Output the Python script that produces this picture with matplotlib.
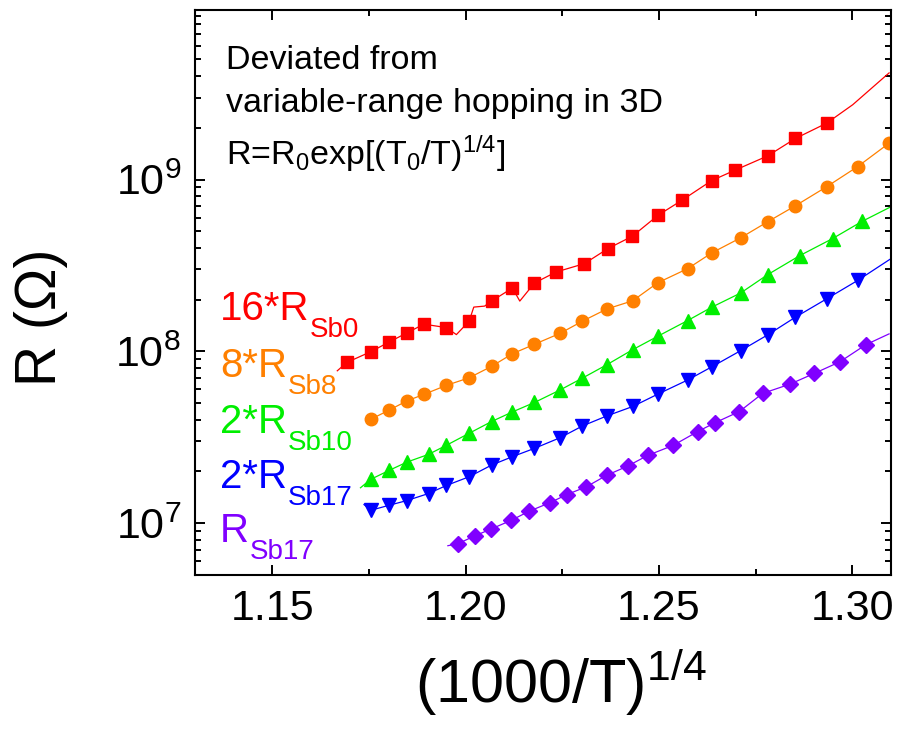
import matplotlib
matplotlib.use("Agg")
import matplotlib.pyplot as plt
from matplotlib.ticker import LogLocator, NullFormatter, MultipleLocator, LogFormatterSciNotation

plt.rcParams['font.family'] = ['Liberation Sans', 'DejaVu Sans']
plt.rcParams['mathtext.fontset'] = 'custom'
plt.rcParams['mathtext.rm'] = 'Liberation Sans'
plt.rcParams['mathtext.it'] = 'Liberation Sans:italic'
plt.rcParams['mathtext.default'] = 'regular'

# ---------------- data (x = (1000/T)^(1/4), y = R in Ohm) ----------------
# 16*R_Sb0 (red squares)
x_sb0 = [1.1693, 1.1755, 1.1801, 1.1848, 1.1892, 1.1950, 1.2009, 1.2067, 1.2121, 1.2178,
         1.2234, 1.2307, 1.2368, 1.2431, 1.2498, 1.2560, 1.2636, 1.2696, 1.2781, 1.2853, 1.2934]
y_sb0 = [8.63e7, 9.96e7, 1.130e8, 1.281e8, 1.440e8, 1.375e8, 1.499e8, 1.962e8, 2.337e8, 2.500e8,
         2.897e8, 3.240e8, 3.964e8, 4.677e8, 6.203e8, 7.592e8, 9.85e8, 1.132e9, 1.372e9, 1.734e9, 2.130e9]
xl_sb0 = [1.1668, 1.1693, 1.1755, 1.1801, 1.1848, 1.1892, 1.1950, 1.1976, 1.2009, 1.2021, 1.2049,
          1.2067, 1.2121, 1.2140, 1.2178, 1.2234, 1.2307, 1.2368, 1.2431, 1.2498, 1.2560, 1.2636,
          1.2696, 1.2781, 1.2853, 1.2934, 1.3001, 1.3095]
yl_sb0 = [7.71e7, 8.63e7, 9.96e7, 1.130e8, 1.281e8, 1.440e8, 1.375e8, 1.252e8, 1.499e8, 1.81e8, 1.834e8,
          1.962e8, 2.337e8, 1.962e8, 2.500e8, 2.897e8, 3.240e8, 3.964e8, 4.677e8, 6.203e8, 7.592e8, 9.85e8,
          1.132e9, 1.372e9, 1.734e9, 2.130e9, 2.724e9, 4.172e9]

# 8*R_Sb8 (orange circles)
x_sb8 = [1.1755, 1.1802, 1.1848, 1.1892, 1.1950, 1.2009, 1.2067, 1.2121, 1.2178, 1.2245, 1.2302,
         1.2365, 1.2432, 1.2497, 1.2574, 1.2637, 1.2711, 1.2781, 1.2853, 1.2934, 1.3014, 1.3095]
y_sb8 = [4.03e7, 4.55e7, 5.15e7, 5.62e7, 6.34e7, 7.02e7, 8.18e7, 9.69e7, 1.100e8, 1.276e8, 1.499e8,
         1.764e8, 1.970e8, 2.509e8, 3.029e8, 3.747e8, 4.577e8, 5.677e8, 7.04e8, 9.09e8, 1.190e9, 1.627e9]

# 2*R_Sb10 (green up-triangles)
x_sb10 = [1.1754, 1.1802, 1.1848, 1.1904, 1.1950, 1.2009, 1.2067, 1.2121, 1.2178, 1.2245, 1.2302,
          1.2365, 1.2432, 1.2497, 1.2574, 1.2637, 1.2711, 1.2781, 1.2864, 1.2949, 1.3026]
y_sb10 = [1.798e7, 2.029e7, 2.268e7, 2.516e7, 2.84e7, 3.337e7, 3.906e7, 4.444e7, 5.043e7, 5.975e7, 6.99e7,
          8.36e7, 1.023e8, 1.225e8, 1.511e8, 1.81e8, 2.185e8, 2.795e8, 3.607e8, 4.534e8, 5.72e8]
x_sb10_ends = [1.1728, 1.3100]
y_sb10_ends = [1.608e7, 6.945e8]

# 2*R_Sb17 (blue down-triangles)
x_sb17b = [1.1755, 1.1802, 1.1848, 1.1904, 1.1950, 1.2009, 1.2067, 1.2121, 1.2178, 1.2245, 1.2302,
           1.2365, 1.2432, 1.2497, 1.2574, 1.2637, 1.2711, 1.2781, 1.2853, 1.2934, 1.3014]
y_sb17b = [1.190e7, 1.272e7, 1.355e7, 1.489e7, 1.658e7, 1.864e7, 2.179e7, 2.44e7, 2.727e7, 3.15e7, 3.681e7,
           4.21e7, 4.778e7, 5.64e7, 6.81e7, 8.14e7, 1.009e8, 1.247e8, 1.582e8, 2.024e8, 2.588e8]
x_sb17b_ends = [1.1737, 1.3100]
y_sb17b_ends = [1.284e7, 3.465e8]

# R_Sb17 (purple diamonds)
x_sb17 = [1.1980, 1.2025, 1.2066, 1.2118, 1.2164, 1.2217, 1.2262, 1.2312, 1.2365, 1.2419, 1.2471,
          1.2537, 1.2600, 1.2646, 1.2708, 1.2768, 1.2839, 1.2902, 1.2968, 1.3035]
y_sb17 = [7.6e6, 8.47e6, 9.26e6, 1.040e7, 1.174e7, 1.314e7, 1.469e7, 1.629e7, 1.902e7, 2.150e7, 2.482e7,
          2.84e7, 3.415e7, 3.853e7, 4.468e7, 5.692e7, 6.45e7, 7.45e7, 8.70e7, 1.094e8]
x_sb17_ends = [1.1954, 1.3095]
y_sb17_ends = [7.40e6, 1.264e8]

label_main = ['16*R', '8*R', '2*R', '2*R', 'R']
label_sub = ['Sb0', 'Sb8', 'Sb10', 'Sb17', 'Sb17']
colors = ['#ff0000', '#ff8000', '#00ee00', '#0000ff', '#8000ff']
annotation = ['Deviated from', 'variable-range hopping in 3D',
              'R=R$_0$exp[(T$_0$/T)$^{1/4}$]']

# ---------------- figure ----------------
fig = plt.figure(figsize=(8.99, 7.36), dpi=100)
ax = fig.add_axes([0.2169, 0.2188, 0.7742, 0.7677])

def with_ends(xs, ys, xe, ye):
    pts = sorted(list(zip(xs, ys)) + list(zip(xe, ye)))
    return [p[0] for p in pts], [p[1] for p in pts]

lw = 0.9
ax.plot(xl_sb0, yl_sb0, '-', color=colors[0], lw=lw)
ax.plot(x_sb0, y_sb0, 's', color=colors[0], ms=9, mec=colors[0])

ax.plot(x_sb8, y_sb8, '-', color=colors[1], lw=lw)
ax.plot(x_sb8, y_sb8, 'o', color=colors[1], ms=9, mec=colors[1])

lx, ly = with_ends(x_sb10, y_sb10, x_sb10_ends, y_sb10_ends)
ax.plot(lx, ly, '-', color=colors[2], lw=lw)
ax.plot(x_sb10, y_sb10, '^', color=colors[2], ms=10.5, mec=colors[2])

lx, ly = with_ends(x_sb17b, y_sb17b, x_sb17b_ends, y_sb17b_ends)
ax.plot(lx, ly, '-', color=colors[3], lw=lw)
ax.plot(x_sb17b, y_sb17b, 'v', color=colors[3], ms=10.5, mec=colors[3])

lx, ly = with_ends(x_sb17, y_sb17, x_sb17_ends, y_sb17_ends)
ax.plot(lx, ly, '-', color=colors[4], lw=lw)
ax.plot(x_sb17, y_sb17, 'D', color=colors[4], ms=8, mec=colors[4])

ax.set_yscale('log')
ax.set_xlim(1.13, 1.31)
ax.set_ylim(5e6, 9.7e9)

ax.xaxis.set_major_locator(MultipleLocator(0.05))
ax.xaxis.set_minor_locator(MultipleLocator(0.025))
ax.xaxis.set_major_formatter(plt.FuncFormatter(lambda v, p: f'{v:.2f}'))
ax.yaxis.set_major_locator(LogLocator(base=10, subs=(1.0,), numticks=10))
ax.yaxis.set_minor_locator(LogLocator(base=10, subs=range(2, 10), numticks=10))
ax.yaxis.set_minor_formatter(NullFormatter())
ax.yaxis.set_major_formatter(LogFormatterSciNotation())

for s in ax.spines.values():
    s.set_linewidth(1.5)
ax.tick_params(which='both', direction='in', top=True, right=True, width=1.4)
ax.tick_params(which='major', length=7)
ax.tick_params(which='minor', length=4)
ax.tick_params(axis='x', which='major', labelsize=31, pad=10)
ax.tick_params(axis='y', which='major', labelsize=31, pad=10)

fig.text(0.0456, 0.5686, 'R (\u03a9)', rotation=90, fontsize=41, ha='center', va='center')
fig.text(0.624, 0.045, '(1000/T)$^{1/4}$', fontsize=44, ha='center', va='baseline')

# annotation lines
ann_y = [0.8956, 0.8195, 0.7257]
for t, yy in zip(annotation, ann_y):
    ax.text(0.0445, yy, t, transform=ax.transAxes, fontsize=24.5, va='baseline', ha='left')

# series labels (main text + lowered subscript)
lab_y = [0.4513, 0.3504, 0.2513, 0.154, 0.0584]
for m, sb, yy, c in zip(label_main, label_sub, lab_y, colors):
    tm = ax.text(0.036, yy, m, transform=ax.transAxes, fontsize=29, color=c,
                 va='baseline', ha='left')
    ax.annotate(sb, xy=(1, 0), xycoords=tm, xytext=(0.5, -6.5), textcoords='offset points',
                fontsize=20, color=c, va='baseline', ha='left')

fig.savefig('out.png', dpi=100)
